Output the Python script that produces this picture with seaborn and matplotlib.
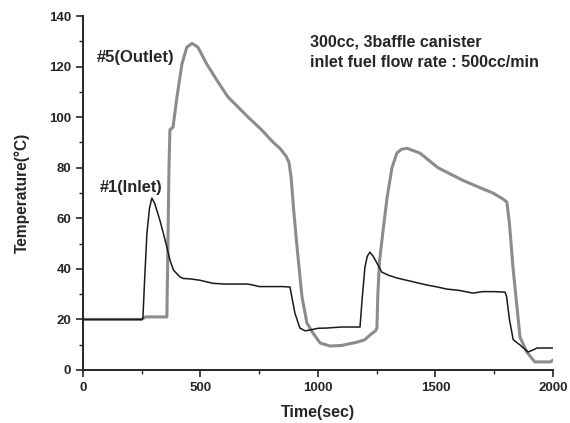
import matplotlib
matplotlib.use("Agg")
import matplotlib.pyplot as plt
import pandas as pd
import seaborn as sns
from matplotlib.ticker import MultipleLocator

# #1 (Inlet) thermocouple
inlet_time = [0, 250, 255, 262, 272, 283, 293, 305, 328, 345, 357, 370, 385, 413,
              428, 460, 498, 520, 553, 600, 650, 700, 723, 750, 800, 850, 881, 902,
              923, 945, 966, 1000, 1038, 1100, 1150, 1179, 1188, 1200, 1210, 1221,
              1235, 1251, 1272, 1300, 1336, 1400, 1464, 1500, 1549, 1600, 1660,
              1700, 1750, 1796, 1803, 1815, 1831, 1860, 1894, 1915, 1932, 1960, 2000]
inlet_temp = [20, 20, 20.5, 35, 54, 64, 68, 66, 59, 53, 48.6, 43.5, 39.5, 36.8,
              36.2, 36, 35.5, 35, 34.3, 34, 34, 34, 33.6, 33, 33, 33, 32.8, 22.5,
              16.6, 15.5, 15.8, 16.5, 16.6, 17, 17, 17, 28, 40.7, 45, 46.6,
              45, 42.3, 38.7, 37.5, 36.4, 35, 33.6, 33, 32, 31.5, 30.4,
              31, 31, 30.8, 29, 20, 12, 9.9, 7.1, 7.9, 8.7, 8.7, 8.7]

# #5 (Outlet) thermocouple
outlet_time = [0, 250, 265, 300, 357, 362, 366, 370, 383, 400, 421, 442, 464,
               489, 527, 570, 617, 660, 703, 760, 810, 840, 865, 877, 886, 896, 911,
               932, 953, 979, 1009, 1051, 1100, 1166, 1200, 1221, 1245, 1251, 1255,
               1262, 1277, 1294, 1315, 1336, 1355, 1379, 1434, 1511, 1617, 1680,
               1745, 1790, 1804, 1815, 1830, 1860, 1889, 1923, 1960, 1990, 2000]
outlet_temp = [20, 20, 21, 21, 21, 54, 80, 95, 96, 108, 121, 127.7, 129.2,
               127.7, 121, 114.6, 108, 104, 100, 95, 90, 87.5, 84.5, 82, 76, 64, 48.6,
               29, 18.6, 14.6, 10.7, 9.5, 9.7, 11, 12, 13.8, 15.5, 16.6, 30,
               43, 55, 68, 80, 85.8, 87.3, 87.7, 85.8, 80, 75, 72.5,
               70, 67.5, 66.4, 58, 40.7, 13, 7.1, 3.2, 3.2, 3.2, 3.9]

df = pd.concat([
    pd.DataFrame({"time": inlet_time, "temp": inlet_temp, "probe": "#1(Inlet)"}),
    pd.DataFrame({"time": outlet_time, "temp": outlet_temp, "probe": "#5(Outlet)"}),
])

sns.set_style("ticks")
plt.rcParams["font.family"] = ["Liberation Sans", "DejaVu Sans"]

fig = plt.figure(figsize=(5.7, 4.23), dpi=100)
ax = fig.add_axes([0.1456, 0.1253, 0.8244, 0.8367])

sns.lineplot(data=df, x="time", y="temp", hue="probe", size="probe",
             palette={"#1(Inlet)": "#1a1a1a", "#5(Outlet)": "#8c8c8c"},
             sizes={"#1(Inlet)": 1.1, "#5(Outlet)": 2.2},
             hue_order=["#5(Outlet)", "#1(Inlet)"],
             sort=False, legend=False, ax=ax)

ax.set_xlim(0, 2000)
ax.set_ylim(0, 140)
ax.xaxis.set_major_locator(MultipleLocator(500))
ax.xaxis.set_minor_locator(MultipleLocator(250))
ax.yaxis.set_major_locator(MultipleLocator(20))
ax.yaxis.set_minor_locator(MultipleLocator(10))
ax.tick_params(which="major", length=5, width=1.2, labelsize=9.5)
ax.tick_params(which="minor", length=3, width=1)
for lab in ax.get_xticklabels() + ax.get_yticklabels():
    lab.set_fontweight("bold")
sns.despine(ax=ax)
for s in ["left", "bottom"]:
    ax.spines[s].set_linewidth(1.4)

ax.set_xlabel("Time(sec)", fontsize=11.5, fontweight="bold", labelpad=8)
ax.set_ylabel("Temperature(\u00b0C)", fontsize=11.2, fontweight="bold", labelpad=14)

ax.text(60, 123.7, "#5(Outlet)", fontsize=12, fontweight="bold", va="center")
ax.text(72, 72, "#1(Inlet)", fontsize=11.8, fontweight="bold", va="center")
ax.text(966, 129.6, "300cc, 3baffle canister", fontsize=11.5, fontweight="bold", va="center")
ax.text(966, 121.7, "inlet fuel flow rate : 500cc/min", fontsize=11.5, fontweight="bold", va="center")

fig.savefig("out.png", dpi=100)
